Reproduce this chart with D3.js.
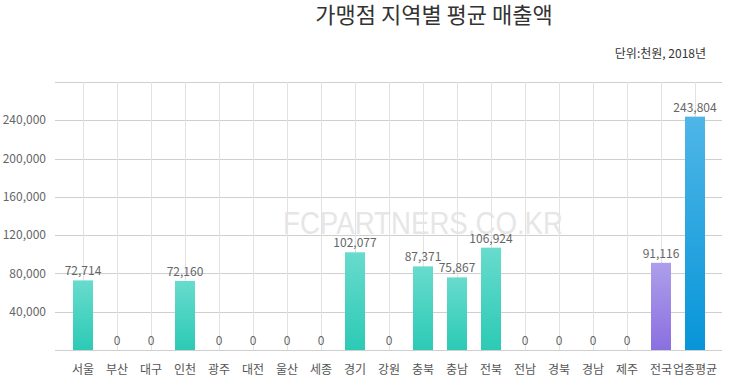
<!DOCTYPE html>
<html><head><meta charset="utf-8">
<script src="https://cdn.jsdelivr.net/npm/d3@7"></script>
<style>body{margin:0;background:#fff}svg{display:block}</style>
</head><body>
<script>
const categories = ["서울","부산","대구","인천","광주","대전","울산","세종","경기","강원","충북","충남","전북","전남","경북","경남","제주","전국","업종평균"];
const values = [72714,0,0,72160,0,0,0,0,102077,0,87371,75867,106924,0,0,0,0,91116,243804];
const groups = ["region","region","region","region","region","region","region","region","region","region","region","region","region","region","region","region","region","national","industry"];
const yTicks = [40000,80000,120000,160000,200000,240000,280000];
const title = "가맹점 지역별 평균 매출액";
const subtitle = "단위:천원, 2018년";
const watermark = "FCPARTNERS.CO.KR";

const W = 736, H = 386;
const svg = d3.select("body").append("svg").attr("width", W).attr("height", H);
const font = "'Noto Sans CJK KR','Noto Sans',sans-serif";

const defs = svg.append("defs");
const grads = {
  region: ["#68dbcd", "#2ccab5"],
  national: ["#ad9fea", "#8a6fe0"],
  industry: ["#4fb6e7", "#0795d8"]
};
Object.entries(grads).forEach(([k, c]) => {
  const g = defs.append("linearGradient").attr("id", "g-" + k).attr("x1", 0).attr("y1", 0).attr("x2", 0).attr("y2", 1);
  g.append("stop").attr("offset", "0%").attr("stop-color", c[0]);
  g.append("stop").attr("offset", "100%").attr("stop-color", c[1]);
});

const x = d3.scaleBand().domain(categories).range([66, 712]).paddingInner(14/34).paddingOuter(7/34);
const y = d3.scaleLinear().domain([0, 280000]).range([350, 82]);

// horizontal grid
svg.append("g").selectAll("line").data([0, ...yTicks]).join("line")
  .attr("x1", 55).attr("x2", 722)
  .attr("y1", d => Math.round(y(d)) + 0.5).attr("y2", d => Math.round(y(d)) + 0.5)
  .attr("stroke", "#cfcfcf").attr("stroke-width", 1);

// vertical grid at category centers
svg.append("g").selectAll("line").data(categories).join("line")
  .attr("x1", d => Math.round(x(d) + x.bandwidth()/2) + 0.5)
  .attr("x2", d => Math.round(x(d) + x.bandwidth()/2) + 0.5)
  .attr("y1", y(280000)).attr("y2", y(0))
  .attr("stroke", "#e2e2e2").attr("stroke-width", 1);

// y tick labels (top tick unlabeled)
svg.append("g").selectAll("text").data(yTicks.filter(d => d < 280000)).join("text")
  .attr("x", 46).attr("y", d => y(d)).attr("dy", "0.35em")
  .attr("text-anchor", "end").attr("font-family", font).attr("font-size", 12)
  .attr("fill", "#666").text(d => d3.format(",")(d));

// watermark
svg.append("text").attr("x", 423).attr("y", 234)
  .attr("text-anchor", "middle").attr("font-family", "'Liberation Sans',Arial,sans-serif")
  .attr("font-size", 32).attr("textLength", 280).attr("lengthAdjust", "spacingAndGlyphs")
  .attr("fill", "#e6e6e6").text(watermark);

// bars
svg.append("g").selectAll("rect").data(values).join("rect")
  .attr("x", (d, i) => x(categories[i]))
  .attr("width", x.bandwidth())
  .attr("y", d => y(d))
  .attr("height", d => y(0) - y(d))
  .attr("fill", (d, i) => `url(#g-${groups[i]})`);

// value labels
svg.append("g").selectAll("text").data(values).join("text")
  .attr("x", (d, i) => x(categories[i]) + x.bandwidth()/2)
  .attr("y", d => y(d) - 5)
  .attr("text-anchor", "middle").attr("font-family", font).attr("font-size", 12)
  .attr("fill", "#666").text(d => d3.format(",")(d));

// category labels
svg.append("g").selectAll("text").data(categories).join("text")
  .attr("x", d => x(d) + x.bandwidth()/2).attr("y", 370).attr("dy", "0.35em")
  .attr("text-anchor", "middle").attr("font-family", font).attr("font-size", 12)
  .attr("fill", "#555").text(d => d);

// title & subtitle
svg.append("text").attr("x", 434).attr("y", 15).attr("dy", "0.35em")
  .attr("text-anchor", "middle").attr("font-family", font).attr("font-size", 22)
  .attr("fill", "#333").text(title);
svg.append("text").attr("x", 706).attr("y", 54).attr("dy", "0.35em")
  .attr("text-anchor", "end").attr("font-family", font).attr("font-size", 12)
  .attr("fill", "#333").text(subtitle);
</script>
</body></html>
